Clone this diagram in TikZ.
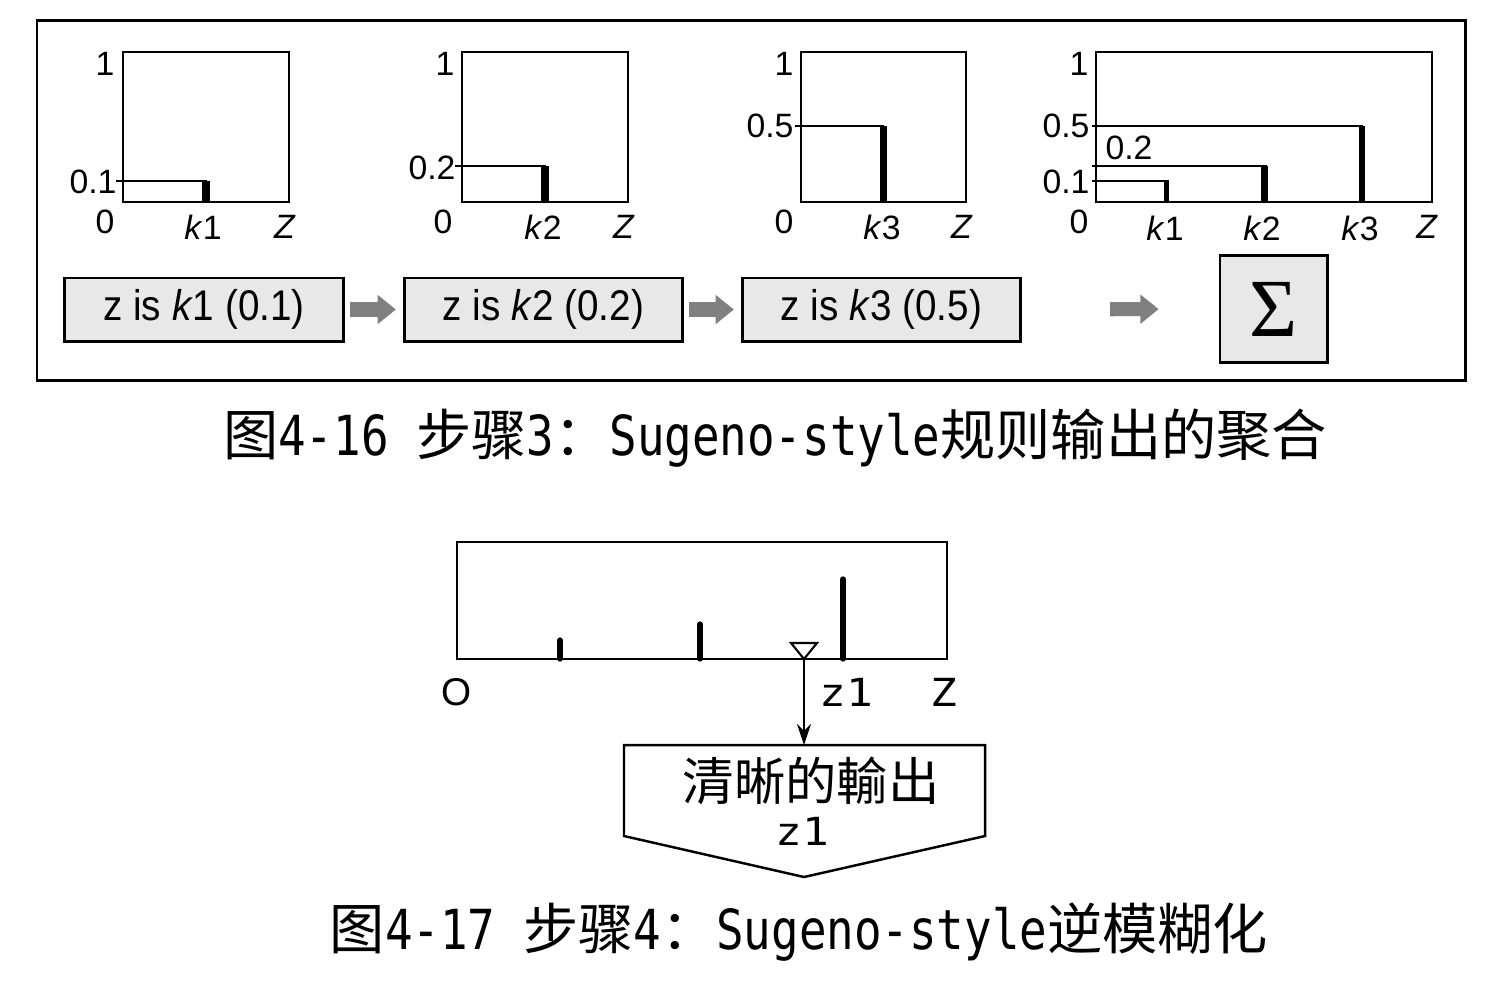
\documentclass[tikz,border=0pt]{standalone}
\usepackage{fontspec}
\setmainfont{Liberation Sans}
\newfontfamily\cjk{Noto Sans CJK SC}
\newfontfamily\cjktc{Noto Sans CJK TC}
\newfontfamily\capmono[FakeStretch=0.83]{DejaVu Sans Mono}
\newfontfamily\widemono[FakeStretch=1.15]{DejaVu Sans Mono}
\newfontfamily\narrowsans[FakeStretch=0.9]{Liberation Sans}
\newfontfamily\serifgr{Liberation Serif}
\usetikzlibrary{arrows.meta}
\definecolor{boxgray}{HTML}{E8E8E8}
\definecolor{arrgray}{HTML}{808080}
\begin{document}
\begin{tikzpicture}[x=0.01cm,y=-0.01cm,
  lbl/.style={font=\fontsize{9.6}{10}\selectfont, inner sep=0pt, anchor=base},
  frame/.style={draw, line width=0.65pt},
  level/.style={line width=0.65pt},
  rulebox/.style={draw, fill=boxgray, line width=0.85pt, minimum width=2.78cm, minimum height=0.63cm, inner sep=0pt, font=\narrowsans\fontsize{12.2}{13}\selectfont},
  blockarrow/.style={draw=arrgray, line width=4pt, -{Triangle[length=5.2pt,width=8pt,fill=arrgray]}},
  monolbl/.style={font=\widemono\fontsize{11}{12}\selectfont, inner sep=0pt},
  caption/.style={font=\fontsize{15.7}{17}\selectfont, inner sep=0pt}
]
\useasboundingbox (0,0) rectangle (1495,981);
% outer frame
\draw[line width=0.85pt] (37,20) rectangle (1465,380);

% ---- chart 1
\draw[frame] (123,52) rectangle (289,202);
\draw[level] (116,181) -- (207,181);
\fill (202,181) rectangle (210,201);
\node[lbl] (c1one) at (105,75) {1};
\node[lbl] (c1v) at (93,193) {0.1};
\node[lbl] (c1zero) at (105,233) {0};
\node[lbl] (c1k) at (203,239) {\textit{k}1};
\node[lbl] (c1Z) at (285,238) {\textit{Z}};

% ---- chart 2
\draw[frame] (462,52) rectangle (628,202);
\draw[level] (455,166) -- (546,166);
\fill (541,166) rectangle (549,201);
\node[lbl] (c2one) at (445,75) {1};
\node[lbl] (c2v) at (432,179) {0.2};
\node[lbl] (c2zero) at (443,233) {0};
\node[lbl] (c2k) at (543,239) {\textit{k}2};
\node[lbl] (c2Z) at (624,238) {\textit{Z}};

% ---- chart 3
\draw[frame] (801,52) rectangle (966,202);
\draw[level] (795,126) -- (884,126);
\fill (880,126) rectangle (887,201);
\node[lbl] (c3one) at (784,75) {1};
\node[lbl] (c3v) at (770,137) {0.5};
\node[lbl] (c3zero) at (784,233) {0};
\node[lbl] (c3k) at (882,239) {\textit{k}3};
\node[lbl] (c3Z) at (962,238) {\textit{Z}};

% ---- chart 4
\draw[frame] (1096,52) rectangle (1432,202);
\draw[level] (1092,126) -- (1363,126);
\fill (1359,126) rectangle (1365,201);
\draw[level] (1092,166) -- (1267,166);
\fill (1261,166) rectangle (1268,201);
\draw[level] (1092,181) -- (1169,181);
\fill (1164,181) rectangle (1169,201);
\node[lbl] (c4one) at (1079,75) {1};
\node[lbl] (c4v5) at (1066,137) {0.5};
\node[lbl] (c4v2) at (1129,159) {0.2};
\node[lbl] (c4v1) at (1066,193) {0.1};
\node[lbl] (c4zero) at (1079,233) {0};
\node[lbl] (c4k1) at (1165,240) {\textit{k}1};
\node[lbl] (c4k2) at (1262,240) {\textit{k}2};
\node[lbl] (c4k3) at (1360,240) {\textit{k}3};
\node[lbl] (c4Z) at (1427,238) {\textit{Z}};

% ---- rule boxes
\node[rulebox] (r1) at (204,309.5) {z is \textit{k}1 (0.1)};
\node[rulebox] (r2) at (543.5,309.5) {z is \textit{k}2 (0.2)};
\node[rulebox] (r3) at (881.5,309.5) {z is \textit{k}3 (0.5)};
\node[draw, fill=boxgray, line width=0.85pt, minimum width=1.07cm, minimum height=1.06cm, inner sep=0pt,
      font=\serifgr\fontsize{23.5}{24}\selectfont] (sig) at (1273.5,309) {Σ};
\draw[blockarrow, shorten <=1.4pt, shorten >=2pt] (r1) -- (r2);
\draw[blockarrow, shorten <=1.4pt, shorten >=2pt] (r2) -- (r3);
\draw[blockarrow, shorten <=25pt, shorten >=17pt] (r3) -- (sig);

% ---- caption 1
\node[caption] (cap1) at (775,438) {{\cjk 图}{\capmono 4-16 }{\cjk 步骤}{\capmono 3}{\cjk ：}{\capmono Sugeno-style}{\cjk 规则输出的聚合}};

% ---- bottom chart
\draw[line width=0.6pt] (457,542) rectangle (947,659);
\draw[line width=1.5pt, line cap=round] (560,659) -- (560,640);
\draw[line width=1.5pt, line cap=round] (700,659) -- (700,624);
\draw[line width=1.5pt, line cap=round] (843,659) -- (843,579);
\draw[line width=0.6pt, fill=white] (791,643) -- (817,643) -- (804,659) -- cycle;
\coordinate (tip) at (804,659);
\node[inner sep=0pt, font=\fontsize{11}{12}\selectfont] (Olbl) at (457,692) {O};
\node[monolbl] (z1lbl) at (846,692) {z1};
\node[monolbl] (Zlbl) at (944,692) {Z};

% output pentagon
\draw[line width=0.7pt] (624,745) -- (985,745) -- (985,836) -- (804,877) -- (624,836) -- cycle;
\coordinate (outtop) at (804,745);
\node[inner sep=0pt, font=\cjktc\fontsize{14.6}{15}\selectfont] (outtxt) at (811,781) {清晰的輸出};
\node[monolbl] (outz) at (802,831) {z1};
\draw[line width=0.6pt, -{Stealth[length=6pt,width=4pt]}] (tip) -- (outtop);

% ---- caption 2
\node[caption] (cap2) at (799,932) {{\cjk 图}{\capmono 4-17 }{\cjk 步骤}{\capmono 4}{\cjk ：}{\capmono Sugeno-style}{\cjk 逆模糊化}};
\end{tikzpicture}
\end{document}
